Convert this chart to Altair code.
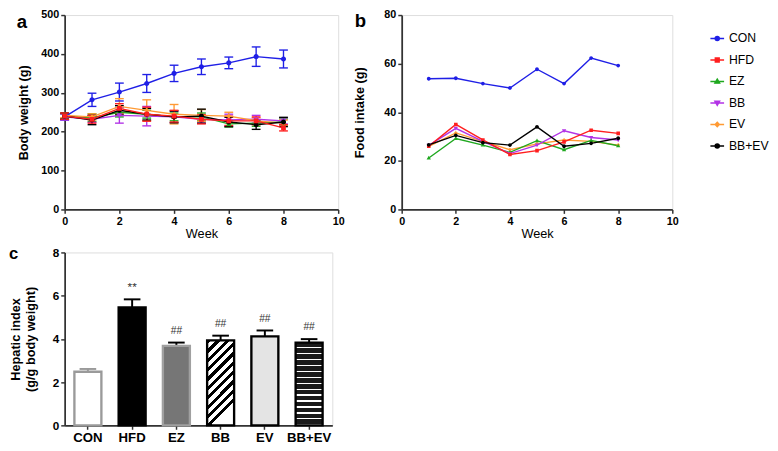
import altair as alt
import pandas as pd

FONT = "Liberation Sans"

groups = ["CON", "HFD", "EZ", "BB", "EV", "BB+EV"]
colors = ["#1f1fe6", "#ff1f1f", "#1fa81f", "#b233e6", "#ff9a33", "#000000"]

# Panel a: body weight (g), mean and error per week
weeks_bw = [0, 1, 2, 3, 4, 5, 6, 7, 8]
bw_con = [238, 282, 302, 324, 350, 367, 377, 393, 387]
bw_hfd = [240, 232, 260, 245, 240, 232, 228, 228, 210]
bw_ez = [240, 236, 250, 245, 238, 238, 220, 222, 225]
bw_bb = [238, 232, 242, 240, 238, 232, 230, 232, 228]
bw_ev = [242, 238, 265, 255, 245, 242, 240, 228, 222]
bw_bbev = [240, 230, 255, 245, 238, 240, 225, 218, 225]
err_con = [8, 17, 23, 23, 21, 20, 15, 25, 23]
err_hfd = [8, 10, 12, 18, 15, 12, 12, 10, 8]
err_ez = [6, 10, 12, 10, 10, 10, 8, 8, 8]
err_bb = [8, 8, 20, 25, 15, 10, 15, 10, 8]
err_ev = [6, 8, 20, 27, 25, 15, 10, 8, 8]
err_bbev = [8, 12, 12, 15, 15, 18, 12, 12, 12]

# Panel b: food intake (g)
weeks_fi = [1, 2, 3, 4, 5, 6, 7, 8]
fi_con = [53.8, 54.0, 51.8, 50.0, 57.7, 51.8, 62.3, 59.2]
fi_hfd = [26.0, 35.0, 28.6, 22.6, 24.2, 27.8, 32.6, 31.3]
fi_ez = [21.2, 29.2, 26.5, 23.5, 28.3, 24.6, 28.4, 26.2]
fi_bb = [26.4, 33.4, 28.0, 23.0, 26.5, 32.4, 29.6, 28.6]
fi_ev = [26.0, 31.5, 28.0, 24.6, 27.0, 28.6, 28.0, 26.5]
fi_bbev = [26.6, 30.5, 27.5, 26.5, 34.0, 26.0, 27.2, 29.3]

# Panel c: hepatic index
hep_mean = [2.48, 5.46, 3.68, 3.93, 4.12, 3.83]
hep_err = [0.13, 0.37, 0.15, 0.22, 0.27, 0.16]
hep_mark = ["", "**", "##", "##", "##", "##"]

# ---------------------------------------------------------------
bw = dict(zip(groups, [bw_con, bw_hfd, bw_ez, bw_bb, bw_ev, bw_bbev]))
bwe = dict(zip(groups, [err_con, err_hfd, err_ez, err_bb, err_ev, err_bbev]))
fi = dict(zip(groups, [fi_con, fi_hfd, fi_ez, fi_bb, fi_ev, fi_bbev]))

order_a = ["CON", "EZ", "BB", "EV", "BB+EV", "HFD"]
order_b = ["CON", "EV", "EZ", "BB", "HFD", "BB+EV"]

rows_a = []
for g in order_a:
    for i, w in enumerate(weeks_bw):
        rows_a.append({"group": g, "week": w, "value": bw[g][i],
                       "lo": bw[g][i] - bwe[g][i], "hi": bw[g][i] + bwe[g][i]})
df_a = pd.DataFrame(rows_a)

rows_b = []
for g in order_b:
    for i, w in enumerate(weeks_fi):
        rows_b.append({"group": g, "week": w, "value": fi[g][i]})
df_b = pd.DataFrame(rows_b)

df_c = pd.DataFrame({"group": groups, "mean": hep_mean,
                     "hi": [m + e for m, e in zip(hep_mean, hep_err)],
                     "mark": hep_mark,
                     "msize": [12 if m == "**" else 10.5 for m in hep_mark],
                     "ecol": ["#9a9a9a"] + ["#000000"] * 5})

# marker shapes: short line + marker (line part only visible in legend)
paths = [
    "M-1,0H1M0.3,0A0.3,0.3 0 1,1 -0.3,0A0.3,0.3 0 1,1 0.3,0Z",
    "M-1,0H1M-0.28,-0.28H0.28V0.28H-0.28Z",
    "M-1,0H1M0,-0.34L0.34,0.24H-0.34Z",
    "M-1,0H1M0,0.34L0.34,-0.24H-0.34Z",
    "M-1,0H1M0,-0.32L0.3,0L0,0.32L-0.3,0Z",
    "M-1,0H1M0.3,0A0.3,0.3 0 1,1 -0.3,0A0.3,0.3 0 1,1 0.3,0Z",
]

color_scale = alt.Scale(domain=groups, range=colors)
shape_scale = alt.Scale(domain=groups, range=paths)

AX = dict(labelFont=FONT, labelFontWeight="bold", labelColor="#000", titleFont=FONT,
          titleColor="#000", domainColor="#333", domainWidth=1.8, tickColor="#333",
          tickWidth=1.5, tickSize=4, grid=False, labelOverlap=False)


def xweek():
    return alt.X("week:Q", scale=alt.Scale(domain=[0, 10], nice=False, zero=False),
                 axis=alt.Axis(values=[0, 2, 4, 6, 8, 10], title="Week", labelFontSize=11,
                               titleFontSize=13, titleFontWeight="normal", titlePadding=2,
                               labelPadding=2, labelFlush=False, **AX))


def letter(t, x, y, size):
    return alt.Chart(pd.DataFrame({"t": [t]})).mark_text(
        font=FONT, fontWeight="bold", fontSize=size, align="left", baseline="alphabetic",
        color="#000").encode(text="t:N", x=alt.value(x), y=alt.value(y))


# ---------------- Panel a ----------------
def ya(field):
    return alt.Y(field, scale=alt.Scale(domain=[0, 500], nice=False),
                 axis=alt.Axis(values=[0, 100, 200, 300, 400, 500], title="Body weight (g)",
                               labelFontSize=11, titleFontSize=13, titleFontWeight="bold",
                               titlePadding=11, labelPadding=2, **AX))


col_a = alt.Color("group:N", scale=color_scale, legend=None)
base_a = alt.Chart(df_a)
err_a = base_a.mark_rule(strokeWidth=1.4).encode(x=xweek(), y=ya("lo:Q"), y2="hi:Q", color=col_a)
cap_lo = base_a.mark_tick(orient="horizontal", size=9, thickness=1.4, opacity=1).encode(
    x=xweek(), y=ya("lo:Q"), color=col_a)
cap_hi = base_a.mark_tick(orient="horizontal", size=9, thickness=1.4, opacity=1).encode(
    x=xweek(), y=ya("hi:Q"), color=col_a)
line_a = base_a.mark_line(strokeWidth=1.4).encode(x=xweek(), y=ya("value:Q"), color=col_a)
pts_a = base_a.mark_point(filled=True, size=300, opacity=1, strokeWidth=0).encode(
    x=xweek(), y=ya("value:Q"), color=col_a,
    shape=alt.Shape("group:N", scale=shape_scale, legend=None))
panel_a = alt.layer(err_a, cap_lo, cap_hi, line_a, pts_a,
                    letter("a", -49, 13, 19)).properties(width=280, height=199)

# ---------------- Panel b ----------------
stroke_expr = "".join(f"datum.value === '{g}' ? '{c}' : " for g, c in zip(groups, colors)) + "'#000'"
legend_b = alt.Legend(orient="none", legendX=315, legendY=16, title=None,
                      labelFont=FONT, labelFontSize=12.5, labelColor="#000",
                      labelOffset=4, rowPadding=7, symbolSize=196,
                      symbolStrokeWidth=1.5, symbolOpacity=1,
                      symbolStrokeColor=alt.ExprRef(expr=stroke_expr))
yb = alt.Y("value:Q", scale=alt.Scale(domain=[0, 80], nice=False),
           axis=alt.Axis(values=[0, 20, 40, 60, 80], title="Food intake (g)",
                         labelFontSize=11, titleFontSize=13, titleFontWeight="bold",
                         titlePadding=18, labelPadding=2, **AX))
base_b = alt.Chart(df_b)
line_b = base_b.mark_line(strokeWidth=1.4).encode(
    x=xweek(), y=yb, color=alt.Color("group:N", scale=color_scale, legend=legend_b))
pts_b = base_b.mark_point(filled=True, size=170, opacity=1, strokeWidth=0).encode(
    x=xweek(), y=yb,
    color=alt.Color("group:N", scale=color_scale, legend=legend_b),
    shape=alt.Shape("group:N", scale=shape_scale, legend=legend_b))
panel_b = alt.layer(line_b, pts_b, letter("b", -48, 12, 19)).properties(width=277, height=199)


# ---------------- Panel c ----------------
def stripes(n, frac, c1, c2, x2, y2):
    stops = []
    for i in range(n):
        a = i / n
        b = (i + frac) / n
        e = (i + 1) / n
        stops += [alt.GradientStop(color=c1, offset=a), alt.GradientStop(color=c1, offset=b),
                  alt.GradientStop(color=c2, offset=b), alt.GradientStop(color=c2, offset=e)]
    return alt.LinearGradient(gradient="linear", stops=stops, x1=0, y1=0, x2=x2, y2=y2)


bar_style = {
    "CON": dict(fill="#ffffff", stroke="#9a9a9a"),
    "HFD": dict(fill="#000000", stroke="#000000"),
    "EZ": dict(fill="#767676", stroke="#a0a0a0"),
    "BB": dict(fill=stripes(10, 0.45, "#000000", "#ffffff", 0.32, 1), stroke="#000000"),
    "EV": dict(fill="#e4e4e4", stroke="#000000"),
    "BB+EV": dict(fill=stripes(14, 0.78, "#1a1a1a", "#ffffff", 0, 1), stroke="#000000"),
}


def xc():
    return alt.X("group:N", sort=groups,
                 scale=alt.Scale(domain=groups, paddingInner=0.39, paddingOuter=0.22),
                 axis=alt.Axis(title=None, labelAngle=0, labelFontSize=13.5, labelPadding=2, **AX))


def yc(field):
    return alt.Y(field, scale=alt.Scale(domain=[0, 8], nice=False),
                 axis=alt.Axis(values=[0, 2, 4, 6, 8], title=["Hepatic index", "(g/g body weight)"],
                               labelFontSize=12, titleFontSize=13, titleFontWeight="bold",
                               titleLineHeight=16, titlePadding=15, labelPadding=2, **AX))


base_c = alt.Chart(df_c)
err_c = base_c.mark_rule(strokeWidth=2).encode(
    x=xc(), y=yc("mean:Q"), y2="hi:Q", color=alt.Color("ecol:N", scale=None))
cap_c = base_c.mark_tick(orient="horizontal", size=17, thickness=2, opacity=1).encode(
    x=xc(), y=yc("hi:Q"), color=alt.Color("ecol:N", scale=None))
bars = []
for g in groups:
    bars.append(base_c.transform_filter(alt.datum.group == g).mark_bar(
        strokeWidth=2.4, **bar_style[g]).encode(x=xc(), y=yc("mean:Q")))
txt_c = base_c.mark_text(font=FONT, color="#333", dy=-9, baseline="alphabetic").encode(
    x=xc(), y=yc("hi:Q"), text="mark:N", size=alt.Size("msize:Q", scale=None, legend=None))
panel_c = alt.layer(err_c, cap_c, *bars, txt_c,
                    letter("c", -57, 7, 17)).properties(width=274, height=177)

chart = alt.concat(panel_a, panel_b, panel_c, columns=2, spacing={"row": 3, "column": 8},
                   align="none").resolve_scale(
    color="independent", shape="independent", x="independent", y="independent"
).properties(padding={"top": -5, "left": 0, "right": 0, "bottom": 0}).configure_view(
    stroke=None).configure(font=FONT)

chart.save("out.html", embed_options={"renderer": "svg", "actions": False})
